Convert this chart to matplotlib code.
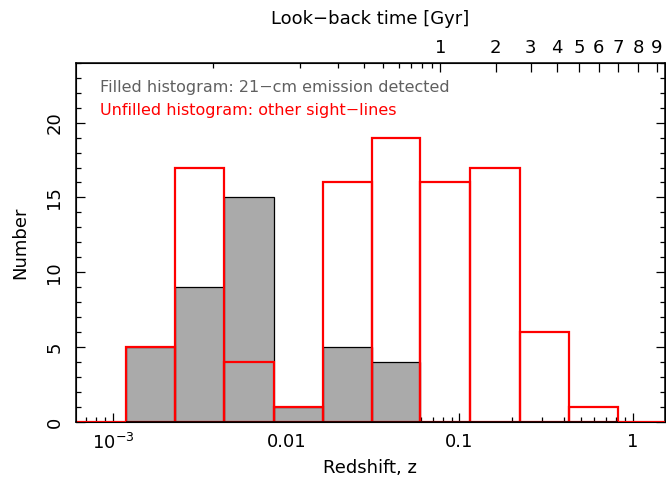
import matplotlib
matplotlib.use("Agg")
import matplotlib.pyplot as plt
from matplotlib.ticker import FixedLocator, NullFormatter, MultipleLocator
import numpy as np

# redshift bin edges (log spaced)
bin_edges = [0.00118, 0.00228, 0.00436, 0.00849, 0.01625, 0.0311,
             0.0594, 0.1153, 0.224, 0.429, 0.824]
detected = [5, 9, 15, 1, 5, 4, 0, 0, 0, 0]
other = [5, 17, 4, 1, 16, 19, 16, 17, 6, 1]

# look-back time axis: redshift at which each tick sits
lookback_labels = ["1", "2", "3", "4", "5", "6", "7", "8", "9"]
lookback_major_z = [0.0774, 0.162, 0.258, 0.365, 0.489, 0.637, 0.820, 1.08, 1.38]
lookback_minor_z = [0.00375, 0.01194, 0.0200, 0.0282, 0.0363, 0.0445, 0.0525, 0.0607, 0.0690]

XMIN, XMAX = 6.1e-4, 1.53

plt.rcParams['font.family'] = ['DejaVu Sans']
fig = plt.figure(figsize=(6.66, 4.79), dpi=100)
ax = fig.add_axes([0.114, 0.119, 0.884, 0.750])

lefts = bin_edges[:-1]
widths = np.diff(bin_edges)

ax.bar(lefts, detected, width=widths, align="edge", color="#aaaaaa",
       edgecolor="black", linewidth=0.9, zorder=2)
ax.bar(lefts, other, width=widths, align="edge", fill=False,
       edgecolor="red", linewidth=1.6, zorder=3)
ax.hlines(0, XMIN, bin_edges[0], color="red", linewidth=1.6, zorder=5)
ax.hlines(0, bin_edges[-1], XMAX, color="red", linewidth=1.6, zorder=5)

ax.set_xscale("log")
ax.set_xlim(XMIN, XMAX)
ax.set_ylim(0, 24)
ax.set_xticks([1e-3, 0.01, 0.1, 1])
ax.set_xticklabels([r"$10^{-3}$", "0.01", "0.1", "1"])
ax.xaxis.set_minor_formatter(NullFormatter())
ax.yaxis.set_major_locator(MultipleLocator(5))
ax.yaxis.set_minor_locator(MultipleLocator(1))
for lab in ax.get_yticklabels():
    lab.set_rotation(90)
    lab.set_va("center")

ax.tick_params(axis="x", which="both", direction="in", top=False, labelsize=13, pad=8)
ax.tick_params(axis="y", which="both", direction="in", right=True, labelsize=13, pad=9)
ax.tick_params(which="major", length=6.5, width=0.9)
ax.tick_params(which="minor", length=3.5, width=0.9)
for sp in ax.spines.values():
    sp.set_linewidth(1.1)
    sp.set_zorder(4)

ax.set_xlabel("Redshift, z", fontsize=13, labelpad=4)
ax.set_ylabel("Number", fontsize=13, labelpad=12)

ax.text(0.041, 0.93, "Filled histogram: 21\u2212cm emission detected",
        transform=ax.transAxes, color="#606060", fontsize=11.5, va="center")
ax.text(0.041, 0.868, "Unfilled histogram: other sight\u2212lines",
        transform=ax.transAxes, color="red", fontsize=11.5, va="center")

# top axis: look-back time
top = ax.twiny()
top.set_xscale("log")
top.set_xlim(XMIN, XMAX)
top.xaxis.set_major_locator(FixedLocator(lookback_major_z))
top.xaxis.set_minor_locator(FixedLocator(lookback_minor_z))
top.set_xticklabels(lookback_labels)
top.xaxis.set_minor_formatter(NullFormatter())
top.tick_params(axis="x", which="both", direction="in", labelsize=13, pad=4)
top.tick_params(which="major", length=6.5, width=0.9)
top.tick_params(which="minor", length=3.5, width=0.9)
top.set_xlabel("Look\u2212back time [Gyr]", fontsize=13, labelpad=11)

fig.savefig("out.png", dpi=100)
